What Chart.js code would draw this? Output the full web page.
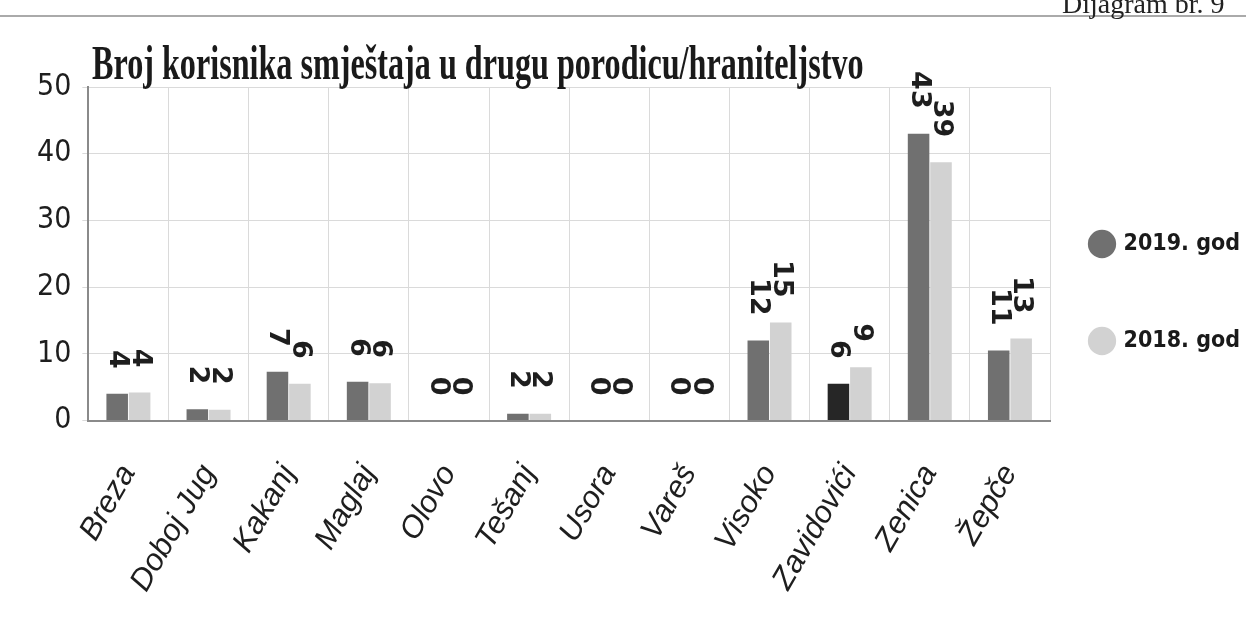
<!DOCTYPE html>
<html>
<head>
<meta charset="utf-8">
<script src="https://cdn.jsdelivr.net/npm/chart.js@4.4.0/dist/chart.umd.min.js"></script>
<style>
  html, body { margin: 0; padding: 0; background: #fff; }
  #wrap { position: relative; width: 1246px; height: 622px; overflow: hidden; }
  #chart { position: absolute; left: 0; top: 0; }
  #title {
    position: absolute; left: 92px; top: 35px;
    font-family: 'Liberation Serif', serif; font-weight: bold; font-size: 48px;
    color: #1a1a1a; transform: scaleX(0.67); transform-origin: left top; white-space: nowrap;
  }
  #doc {
    position: absolute; left: 1062px; top: -12px;
    font-family: 'Liberation Serif', serif; font-size: 28px; color: #222; white-space: nowrap;
  }
  #topline { position: absolute; left: 0; right: 0; top: 15px; border-top: 2px solid #aaa; }
</style>
</head>
<body>
<div id="wrap">
  <div id="topline"></div>
  <canvas id="chart" width="1246" height="622"></canvas>
  <div id="title">Broj korisnika smještaja u drugu porodicu/hraniteljstvo</div>
  <div id="doc">Dijagram br. 9</div>
</div>
<script>
// opštine i vrijednosti (visine stubaca očitane sa slike, natpisi kako su ispisani)
const opstine = ["Breza", "Doboj Jug", "Kakanj", "Maglaj", "Olovo", "Tešanj", "Usora", "Vareš", "Visoko", "Zavidovići", "Zenica", "Žepče"];
const god2019 = [4, 1.7, 7.3, 5.8, 0, 1, 0, 0, 12, 5.5, 43, 10.5];
const god2018 = [4.2, 1.6, 5.5, 5.6, 0, 1, 0, 0, 14.7, 8, 38.7, 12.3];
const natpis2019 = [4, 2, 7, 6, 0, 2, 0, 0, 12, 6, 43, 11];
const natpis2018 = [4, 2, 6, 6, 0, 2, 0, 0, 15, 9, 39, 13];
const yTicks = [0, 10, 20, 30, 40, 50];

const boja2019 = opstine.map((o) => o === "Zavidovići" ? "#262626" : "#707070");

// natpisi iznad stubaca, zarotirani za 90 stepeni
const natpisiPlugin = {
    id: 'natpisi',
    afterDatasetsDraw(chart) {
        const ctx = chart.ctx;
        const sviNatpisi = [natpis2019, natpis2018];
        chart.data.datasets.forEach((ds, i) => {
            const meta = chart.getDatasetMeta(i);
            meta.data.forEach((bar, j) => {
                ctx.save();
                ctx.translate(bar.x, bar.y - 25);
                ctx.rotate(Math.PI / 2);
                ctx.font = 'bold 27px "DejaVu Sans"';
                ctx.fillStyle = '#1e1e1e';
                ctx.textAlign = 'right';
                ctx.textBaseline = 'middle';
                ctx.fillText(String(sviNatpisi[i][j]), 0, 0);
                ctx.restore();
            });
        });
    }
};

// legenda: pomjeri stavke lijevo i gore, kao na originalu
const legendaPomak = {
    id: 'legendaPomak',
    afterLayout(chart) {
        const lg = chart.legend;
        lg.left -= 32;
        lg.right = chart.width;
        lg.top -= 59;
        lg.bottom -= 59;
    }
};

const ctx = document.getElementById('chart').getContext('2d');
const chart = new Chart(ctx, {
    type: 'bar',
    data: {
        labels: opstine,
        datasets: [
            {
                label: '2019. god',
                data: god2019,
                backgroundColor: boja2019,
                borderWidth: 0
            },
            {
                label: '2018. god',
                data: god2018,
                backgroundColor: '#d2d2d2',
                borderWidth: 0
            }
        ]
    },
    options: {
        responsive: false,
        animation: false,
        layout: { padding: { left: 26, top: 87, right: 4, bottom: 6 } },
        datasets: { bar: { categoryPercentage: 0.56, barPercentage: 0.96 } },
        plugins: {
            title: { display: false },
            tooltip: { enabled: false },
            legend: {
                position: 'right',
                align: 'center',
                maxWidth: 192,
                labels: {
                    usePointStyle: true,
                    pointStyle: 'circle',
                    boxWidth: 20,
                    boxHeight: 20,
                    padding: 74,
                    color: '#1a1a1a',
                    font: { family: "'DejaVu Sans Condensed', sans-serif", weight: 'bold', size: 23 }
                }
            }
        },
        scales: {
            x: {
                grid: { color: '#dadada', offset: true, drawTicks: false },
                border: { color: '#8a8a8a', width: 2 },
                afterFit: (axis) => { axis.height -= 20; },
                ticks: {
                    color: '#1e1e1e',
                    maxRotation: 60,
                    minRotation: 60,
                    padding: 38,
                    font: { family: "'Liberation Sans', sans-serif", style: 'italic', size: 31 }
                }
            },
            y: {
                min: 0,
                max: 50,
                afterBuildTicks: (axis) => { axis.ticks = yTicks.map((v) => ({ value: v })); },
                grid: { color: '#dadada', drawTicks: true, tickLength: 6 },
                border: { color: '#8a8a8a', width: 2 },
                ticks: {
                    color: '#1e1e1e',
                    padding: 11,
                    font: { family: "'DejaVu Sans Condensed', sans-serif", size: 30 }
                }
            }
        }
    },
    plugins: [natpisiPlugin, legendaPomak]
});
</script>
</body>
</html>
